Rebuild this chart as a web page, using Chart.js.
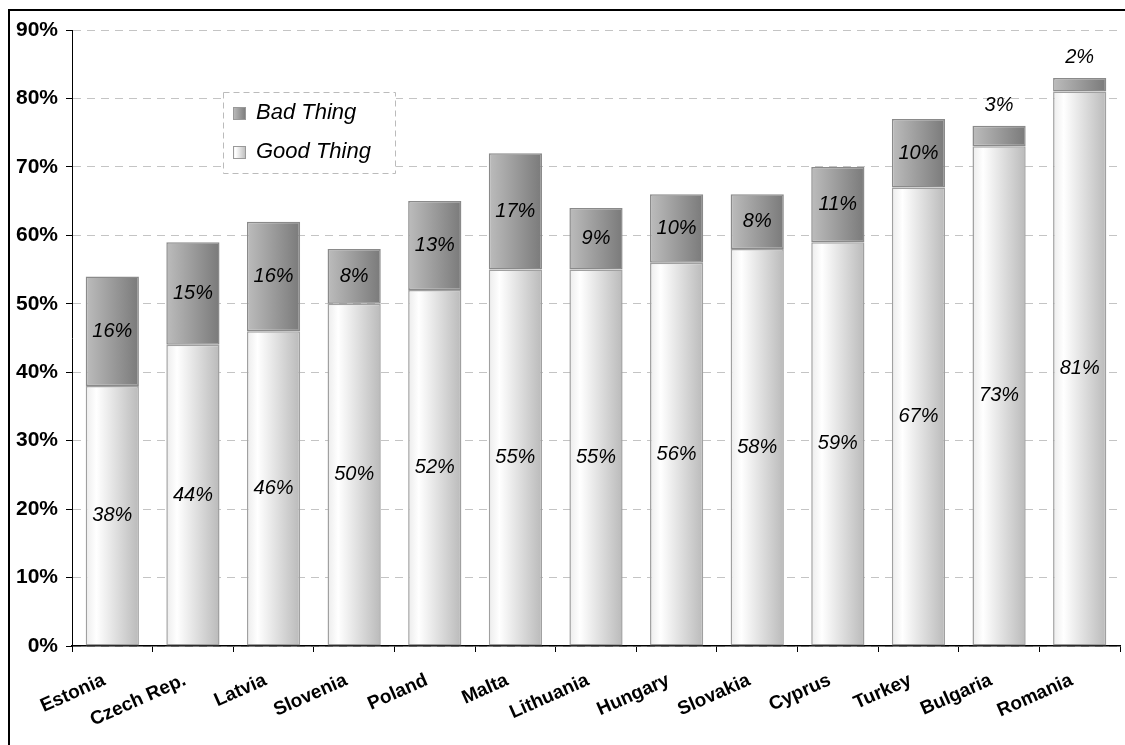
<!DOCTYPE html>
<html>
<head>
<meta charset="utf-8">
<script src="https://cdn.jsdelivr.net/npm/chart.js@4/dist/chart.umd.min.js"></script>
<style>
    body { margin: 0; background: #fff; }
    #wrap { position: relative; width: 1125px; height: 745px; overflow: hidden; }
    #frame { position: absolute; left: 8px; top: 9px; width: 1300px; height: 900px; border: 2px solid #000; pointer-events: none; }
    canvas { position: absolute; left: 0; top: 0; }
</style>
</head>
<body>
<div id="wrap">
    <canvas id="chart" width="1125" height="745"></canvas>
    <div id="frame"></div>
</div>
<script>
const countries = ["Estonia", "Czech Rep.", "Latvia", "Slovenia", "Poland", "Malta", "Lithuania",
    "Hungary", "Slovakia", "Cyprus", "Turkey", "Bulgaria", "Romania"];
const goodThing = [38, 44, 46, 50, 52, 55, 55, 56, 58, 59, 67, 73, 81];
const badThing = [16, 15, 16, 8, 13, 17, 9, 10, 8, 11, 10, 3, 2];
const yTicks = [0, 10, 20, 30, 40, 50, 60, 70, 80, 90];

const barPct = 0.66;
const fontFamily = "'Liberation Sans', Arial, sans-serif";

function barGradient(ctx, stops, fallback) {
    let chart = ctx.chart;
    let x = chart.scales && chart.scales.x;
    if (!x || ctx.dataIndex === undefined) return fallback;
    let c = x.getPixelForValue(ctx.dataIndex);
    let half = x.width / countries.length * barPct / 2;
    if (!isFinite(c) || !isFinite(half) || half <= 0) return fallback;
    let g = chart.ctx.createLinearGradient(c - half, 0, c + half, 0);
    stops.forEach(s => g.addColorStop(s[0], s[1]));
    return g;
}

const goodStops = [[0, "#ececec"], [0.2, "#ffffff"], [1, "#bababa"]];
const badStops = [[0, "#bcbcbc"], [1, "#7a7a7a"]];

function swatch(ctx, x, y, size, stops) {
    let g = ctx.createLinearGradient(x, 0, x + size, 0);
    stops.forEach(s => g.addColorStop(s[0], s[1]));
    ctx.fillStyle = g;
    ctx.fillRect(x, y, size, size);
    ctx.strokeStyle = "#999";
    ctx.lineWidth = 1;
    ctx.strokeRect(x + 0.5, y + 0.5, size - 1, size - 1);
}

const valueLabels = {
    id: "valueLabels",
    afterDatasetsDraw(chart) {
        let ctx = chart.ctx;
        ctx.save();
        ctx.font = "italic 20px " + fontFamily;
        ctx.fillStyle = "#000";
        ctx.textAlign = "center";
        ctx.textBaseline = "middle";
        chart.data.datasets.forEach((ds, di) => {
            chart.getDatasetMeta(di).data.forEach((bar, i) => {
                let h = bar.base - bar.y;
                let y = h < 30 ? bar.y - 20 : bar.y + h / 2;
                ctx.fillText(ds.data[i] + "%", bar.x, y);
            });
        });
        ctx.restore();
    }
};

const boxLegend = {
    id: "boxLegend",
    afterDraw(chart) {
        let ctx = chart.ctx;
        ctx.save();
        ctx.fillStyle = "#fff";
        ctx.fillRect(224, 92, 172, 82);
        ctx.strokeStyle = "#bbb";
        ctx.lineWidth = 1;
        ctx.setLineDash([6, 4]);
        ctx.strokeRect(223.5, 92.5, 172, 81);
        ctx.setLineDash([]);
        ctx.font = "italic 22px " + fontFamily;
        ctx.textBaseline = "middle";
        ctx.textAlign = "left";
        let items = [
            { label: chart.data.datasets[1].label, stops: badStops, y: 113 },
            { label: chart.data.datasets[0].label, stops: goodStops, y: 152 }
        ];
        items.forEach(it => {
            swatch(ctx, 233, it.y - 6, 13, it.stops);
            ctx.fillStyle = "#000";
            ctx.fillText(it.label, 256, it.y);
        });
        ctx.restore();
    }
};

let chart = new Chart(document.getElementById("chart"), {
    type: "bar",
    data: {
        labels: countries,
        datasets: [
            {
                label: "Good Thing",
                data: goodThing,
                backgroundColor: ctx => barGradient(ctx, goodStops, "#e0e0e0"),
                borderColor: "#a0a0a0",
                borderWidth: 1.5,
                borderSkipped: false,
                barPercentage: barPct,
                categoryPercentage: 1
            },
            {
                label: "Bad Thing",
                data: badThing,
                backgroundColor: ctx => barGradient(ctx, badStops, "#9c9c9c"),
                borderColor: "#8a8a8a",
                borderWidth: 1.5,
                borderSkipped: false,
                barPercentage: barPct,
                categoryPercentage: 1
            }
        ]
    },
    options: {
        responsive: false,
        animation: false,
        layout: { padding: { top: 30, right: 5, left: 0, bottom: 0 } },
        plugins: {
            legend: { display: false },
            tooltip: { enabled: false }
        },
        scales: {
            x: {
                stacked: true,
                offset: true,
                afterFit: s => { s.height = 99; },
                grid: {
                    offset: true,
                    drawOnChartArea: false,
                    drawTicks: true,
                    tickLength: 6,
                    tickColor: "#000",
                    tickWidth: 1
                },
                border: { color: "#000", width: 1.5 },
                ticks: {
                    color: "#000",
                    font: { family: fontFamily, size: 19, weight: "bold" },
                    minRotation: 24,
                    maxRotation: 24,
                    autoSkip: false,
                    padding: 17,
                    labelOffset: -8
                }
            },
            y: {
                stacked: true,
                min: 0,
                max: 90,
                afterFit: s => { s.width = 72; },
                afterBuildTicks: s => { s.ticks = yTicks.map(v => ({ value: v })); },
                grid: {
                    color: "#c4c4c4",
                    lineWidth: 1,
                    drawTicks: true,
                    tickLength: 6,
                    tickColor: "#000",
                    tickWidth: 1,
                    tickBorderDash: []
                },
                border: { color: "#000", width: 1, dash: [8, 6] },
                ticks: {
                    color: "#000",
                    font: { family: fontFamily, size: 21, weight: "bold" },
                    padding: 8,
                    callback: v => v + "%"
                }
            }
        }
    },
    plugins: [valueLabels, boxLegend]
});
// gradients need the laid-out scales, so resolve them once more
chart.update();
</script>
</body>
</html>
